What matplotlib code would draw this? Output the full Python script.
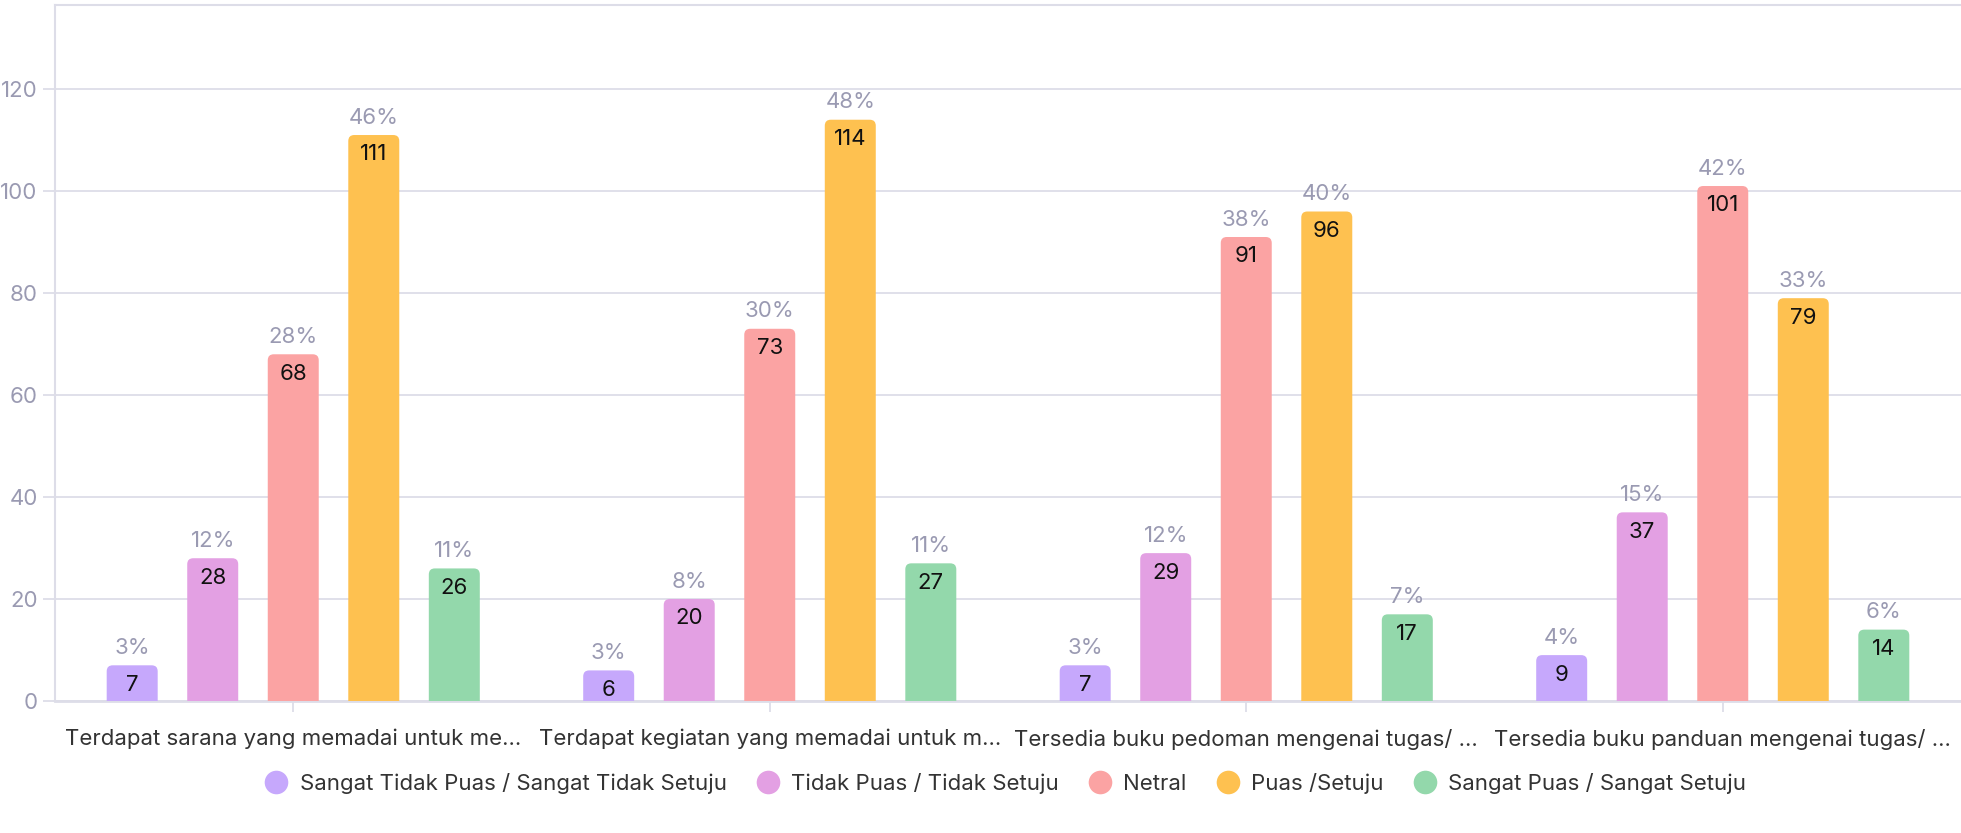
import numpy as np
import matplotlib
matplotlib.use("Agg")
import matplotlib.pyplot as plt
from matplotlib.patches import FancyBboxPatch
from matplotlib.lines import Line2D

plt.rcParams['font.family'] = ['Inter', 'DejaVu Sans']

# data
categories = [
    "Terdapat sarana yang memadai untuk me...",
    "Terdapat kegiatan yang memadai untuk m...",
    "Tersedia buku pedoman mengenai tugas/ ...",
    "Tersedia buku panduan mengenai tugas/ ...",
]
series = [
    "Sangat Tidak Puas / Sangat Tidak Setuju",
    "Tidak Puas / Tidak Setuju",
    "Netral",
    "Puas /Setuju",
    "Sangat Puas / Sangat Setuju",
]
values = [
    [7, 6, 7, 9],
    [28, 20, 29, 37],
    [68, 73, 91, 101],
    [111, 114, 96, 79],
    [26, 27, 17, 14],
]
percents = [
    [3, 3, 3, 4],
    [12, 8, 12, 15],
    [28, 30, 38, 42],
    [46, 48, 40, 33],
    [11, 11, 7, 6],
]
colors = ["#c6a8fc", "#e3a0e3", "#fba3a3", "#fec150", "#93d8ab"]

W, H = 1961, 833
fig = plt.figure(figsize=(W / 100, H / 100), dpi=100)
ax = fig.add_axes([55 / W, 1 - 701 / H, 1 - 55 / W, (701 - 5) / H])

ymax = 136.5
ax.set_xlim(-0.5, len(categories) - 0.5)
ax.set_ylim(0, ymax)

# px per data unit, used to keep the rounded corners circular
ax_w = W - 55
ax_h = 701 - 5
px_x = ax_w / len(categories)
px_y = ax_h / ymax
r_px = 6
bar_w = 0.107
step = 0.169

for i, (vals, pcts, col) in enumerate(zip(values, percents, colors)):
    offs = (i - 2) * step
    for j, (v, p) in enumerate(zip(vals, pcts)):
        x0 = j + offs - bar_w / 2
        rx = r_px / px_x
        ry = r_px / px_y
        patch = FancyBboxPatch((x0, -ry * 2), bar_w, v + ry * 2,
                               boxstyle=f"round,pad=0,rounding_size={rx}",
                               mutation_aspect=ry / rx,
                               facecolor=col, edgecolor="none", zorder=3)
        ax.add_patch(patch)
        ax.annotate(str(v), (j + offs, v), xytext=(0, -14), textcoords="offset points",
                    ha="center", va="center", fontsize=16, color="#111111", zorder=4)
        ax.annotate(f"{p}%", (j + offs, v), xytext=(0, 12.5), textcoords="offset points",
                    ha="center", va="center", fontsize=16, color="#9a9ab2", zorder=4)

ax.set_yticks(np.arange(0, 121, 20))
ax.grid(axis="y", color="#dddde8", linewidth=1.3, zorder=0)
ax.tick_params(axis="y", length=8.5, width=1.3, color="#dddde8", labelsize=16,
               labelcolor="#9a9ab2", pad=4)
ax.set_xticks(range(len(categories)))
ax.set_xticklabels(categories)
ax.tick_params(axis="x", length=8, width=1.3, color="#dddde8", labelsize=16,
               labelcolor="#333333", pad=12)

ax.spines["right"].set_visible(False)
for s in ["left", "top", "bottom"]:
    ax.spines[s].set_color("#dddde8")
ax.spines["bottom"].set_linewidth(2)
ax.spines["left"].set_linewidth(1.5)
ax.spines["top"].set_linewidth(1.5)

handles = [Line2D([], [], marker="o", linestyle="none", markersize=17,
                  markerfacecolor=c, markeredgecolor="none") for c in colors]
fig.legend(handles, series, loc="center", bbox_to_anchor=(1005 / W, 1 - 783 / H),
           ncol=5, frameon=False, fontsize=16, handlelength=1.1, handletextpad=0.5,
           columnspacing=1.3, labelcolor="#333333")

fig.savefig("out.png", dpi=100)
